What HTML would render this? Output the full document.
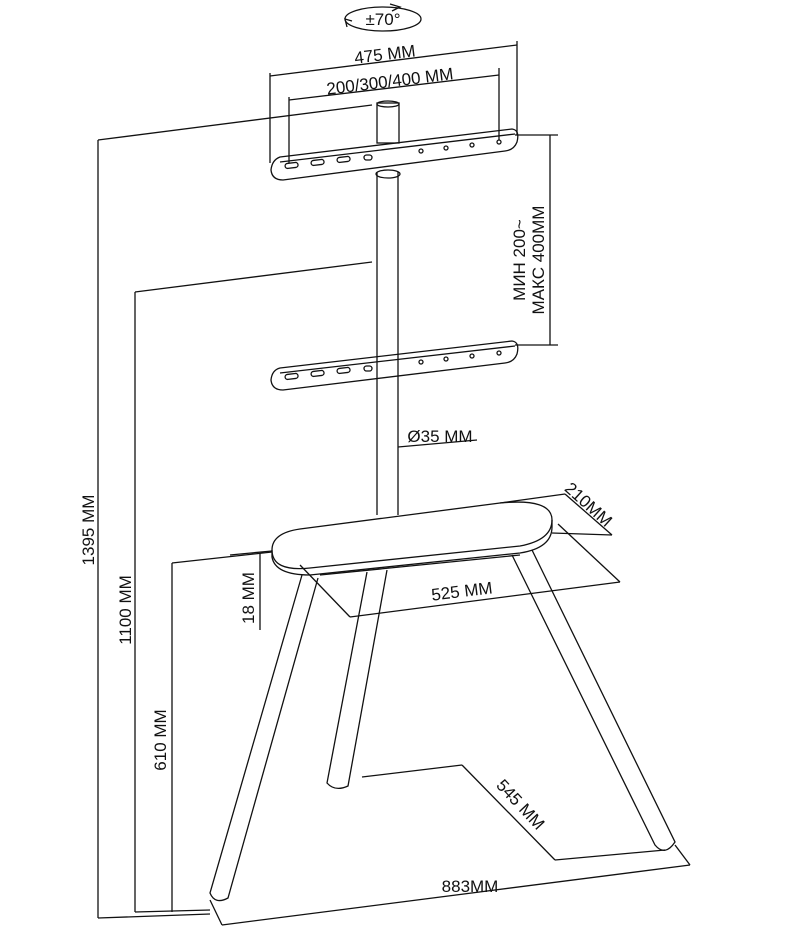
<!DOCTYPE html>
<html><head><meta charset="utf-8"><style>
html,body{margin:0;padding:0;background:#fff}
svg{display:block}
text{font-family:"Liberation Sans",sans-serif;font-size:17px;fill:#111}
</style></head><body>
<svg width="787" height="934" viewBox="0 0 787 934" xmlns="http://www.w3.org/2000/svg">
<g fill="none" stroke="#111" stroke-width="1.3">
<ellipse cx="383" cy="19" rx="38" ry="12"/>
<path d="M390 4 l10 3 l-8 4" />
<path d="M347 27 l-2 -8 l7 2"/>
<line x1="270" y1="73" x2="270" y2="163"/>
<line x1="517" y1="41" x2="517" y2="135"/>
<line x1="270" y1="76" x2="517" y2="45"/>
<line x1="289" y1="97" x2="289" y2="163"/>
<line x1="499" y1="68" x2="499" y2="140"/>
<line x1="289" y1="100" x2="499" y2="75"/>
<line x1="98" y1="140" x2="372" y2="105"/>
<line x1="98" y1="140" x2="98" y2="918"/>
<line x1="98" y1="918" x2="210" y2="914"/>
<line x1="135" y1="292" x2="372" y2="262"/>
<line x1="135" y1="292" x2="135" y2="912"/>
<line x1="135" y1="912" x2="210" y2="910"/>
<line x1="172" y1="563" x2="272" y2="552"/>
<line x1="172" y1="563" x2="172" y2="912"/>
<line x1="260" y1="553" x2="260" y2="630"/>
<line x1="230" y1="555" x2="272" y2="551"/>
<line x1="515" y1="135" x2="558" y2="135"/>
<line x1="515" y1="345" x2="558" y2="345"/>
<line x1="550" y1="135" x2="550" y2="345"/>
<rect x="377" y="103" width="22" height="40"/>
<ellipse cx="388" cy="104" rx="11" ry="3"/>
<path d="M280 157 L512 129 Q520 130 517 142 Q514 150 505 151 L283 180 Q272 180 271 170 Q272 160 280 157 Z"/>
<line x1="280" y1="162" x2="515" y2="134"/>
<rect x="285" y="163" width="13" height="5" rx="2.5" transform="rotate(-7 291 165)"/>
<rect x="311" y="160" width="13" height="5" rx="2.5" transform="rotate(-7 317 162)"/>
<rect x="337" y="157" width="13" height="5" rx="2.5" transform="rotate(-7 343 159)"/>
<rect x="364" y="155" width="8" height="5" rx="2.5"/>
<circle cx="421" cy="151" r="2"/><circle cx="446" cy="148" r="2"/><circle cx="472" cy="145" r="2"/><circle cx="499" cy="142" r="2"/>
<line x1="377" y1="172" x2="377" y2="515"/>
<line x1="398" y1="172" x2="398" y2="515"/>
<ellipse cx="388" cy="174" rx="12" ry="4"/>
<path d="M280 368 L512 341 Q520 342 517 354 Q514 362 505 363 L283 390 Q272 390 271 380 Q272 370 280 368 Z"/>
<line x1="280" y1="373" x2="515" y2="346"/>
<rect x="285" y="374" width="13" height="5" rx="2.5" transform="rotate(-7 291 376)"/>
<rect x="311" y="371" width="13" height="5" rx="2.5" transform="rotate(-7 317 373)"/>
<rect x="337" y="368" width="13" height="5" rx="2.5" transform="rotate(-7 343 370)"/>
<rect x="364" y="366" width="8" height="5" rx="2.5"/>
<circle cx="421" cy="362" r="2"/><circle cx="446" cy="359" r="2"/><circle cx="472" cy="356" r="2"/><circle cx="499" cy="353" r="2"/>
<line x1="398" y1="447" x2="477" y2="440"/>
<path d="M300 529 L500 503 Q552 498 552 520 Q552 540 520 546 L310 568 Q272 572 272 550 Q272 533 300 529 Z"/>
<path d="M272 550 L272 557 Q275 575 310 575 L520 553 Q552 548 552 527 L552 520"/>
<line x1="320" y1="575" x2="520" y2="555"/>
<path d="M302 575 L210 893 Q215 905 228 898 L318 578"/>
<path d="M367 572 L327 783 Q335 792 348 786 L387 570"/>
<path d="M512 555 L655 845 Q665 857 675 842 L532 550"/>
<line x1="350" y1="617" x2="620" y2="582"/>
<line x1="300" y1="565" x2="350" y2="617"/>
<line x1="558" y1="524" x2="620" y2="582"/>
<line x1="500" y1="503" x2="565" y2="494"/>
<line x1="565" y1="494" x2="612" y2="535"/>
<line x1="552" y1="533" x2="612" y2="535"/>
<line x1="362" y1="777" x2="462" y2="765"/>
<line x1="462" y1="765" x2="555" y2="860"/>
<line x1="555" y1="860" x2="665" y2="850"/>
<line x1="222" y1="925" x2="690" y2="865"/>
<line x1="210" y1="900" x2="222" y2="925"/>
<line x1="675" y1="845" x2="690" y2="865"/>
</g>
<text x="383" y="25" text-anchor="middle">±70°</text>
<text x="385" y="60" text-anchor="middle" transform="rotate(-7 385 55)">475 MM</text>
<text x="390" y="87" text-anchor="middle" transform="rotate(-7 390 82)">200/300/400 MM</text>
<text transform="translate(94 530) rotate(-90)" text-anchor="middle">1395 MM</text>
<text transform="translate(131 610) rotate(-90)" text-anchor="middle">1100 MM</text>
<text transform="translate(166 740) rotate(-90)" text-anchor="middle">610 MM</text>
<text transform="translate(254 598) rotate(-90)" text-anchor="middle">18 MM</text>
<text transform="translate(525 260) rotate(-90)" text-anchor="middle">МИН 200~</text>
<text transform="translate(544 260) rotate(-90)" text-anchor="middle">МАКС 400ММ</text>
<text x="440" y="442" text-anchor="middle">Ø35 MM</text>
<text x="462" y="597" text-anchor="middle" transform="rotate(-7 462 592)">525 MM</text>
<text x="588" y="510" text-anchor="middle" transform="rotate(42 588 505)">210MM</text>
<text x="520" y="810" text-anchor="middle" transform="rotate(47 520 805)">545 MM</text>
<text x="470" y="892" text-anchor="middle">883MM</text>
</svg>
</body></html>
